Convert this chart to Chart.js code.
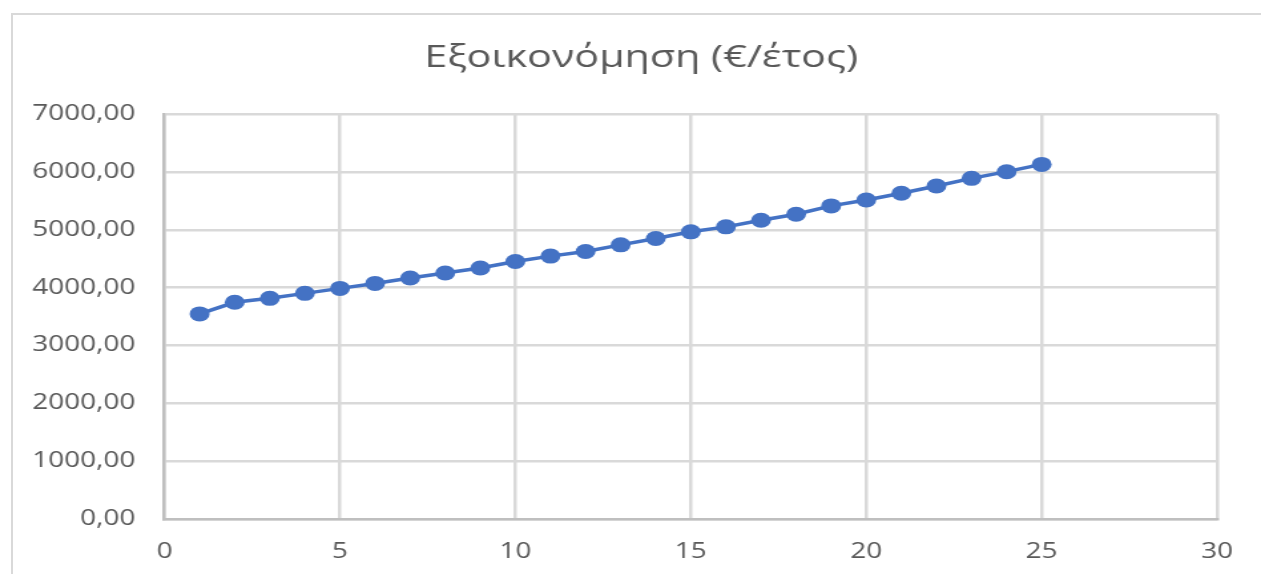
<!DOCTYPE html>
<html>
<head>
<meta charset="utf-8">
<script src="https://cdn.jsdelivr.net/npm/chart.js@4/dist/chart.umd.min.js"></script>
<style>
  html, body { margin: 0; padding: 0; background: #ffffff; }
  #wrap { position: relative; width: 1261px; height: 574px; overflow: hidden; }
  #frame { position: absolute; left: 11px; top: 13px; right: -10px; bottom: -10px;
           border-left: 2px solid #d9d9d9; border-top: 2px solid #d9d9d9; }
  #c { position: absolute; left: 0; top: 0; }
</style>
</head>
<body>
<div id="wrap">
  <div id="frame"></div>
  <canvas id="c" width="948" height="574" style="width:1261px;height:574px"></canvas>
</div>
<script>
// Annual savings per year of operation
const chartTitle = 'Εξοικονόμηση (€/έτος)';
const years = [1, 2, 3, 4, 5, 6, 7, 8, 9, 10, 11, 12, 13, 14, 15, 16, 17, 18, 19, 20, 21, 22, 23, 24, 25];
const savings = [3547, 3747, 3816, 3902, 3988, 4074, 4167, 4253, 4340, 4454,
                 4546, 4626, 4741, 4850, 4966, 5052, 5167, 5270, 5414, 5517,
                 5632, 5759, 5891, 6006, 6132];
const xTicks = [0, 5, 10, 15, 20, 25, 30];
const yTicks = [0, 1000, 2000, 3000, 4000, 5000, 6000, 7000];

const points = years.map((y, i) => ({ x: y, y: savings[i] }));
const fmt = v => v.toFixed(2).replace('.', ',');
const textColor = '#595959';
const family = '"Open Sans", "Segoe UI", sans-serif';

new Chart(document.getElementById('c'), {
  type: 'line',
  data: {
    datasets: [{
      data: points,
      borderColor: '#4472C4',
      borderWidth: 3.5,
      backgroundColor: '#4472C4',
      pointBackgroundColor: '#4472C4',
      pointBorderWidth: 0,
      pointRadius: 7.5,
      pointHoverRadius: 7.5,
      tension: 0,
      fill: false
    }]
  },
  options: {
    responsive: false,
    animation: false,
    events: [],
    layout: { padding: { left: 16, right: 0, top: 0, bottom: 0 } },
    plugins: {
      legend: { display: false },
      tooltip: { enabled: false },
      title: {
        display: true,
        text: chartTitle,
        color: textColor,
        font: { family: family, size: 31, weight: 'normal' },
        padding: { top: 40, bottom: 37 }
      }
    },
    scales: {
      x: {
        type: 'linear',
        min: xTicks[0],
        max: xTicks[xTicks.length - 1],
        afterBuildTicks: s => { s.ticks = xTicks.map(v => ({ value: v })); },
        afterFit: s => { s.height = 55; },
        grid: { color: '#d9d9d9', lineWidth: 2.5, drawTicks: false },
        border: { color: '#bfbfbf', width: 2.5 },
        ticks: {
          color: textColor,
          font: { family: family, size: 21 },
          padding: 20,
          maxRotation: 0,
          callback: v => String(v)
        }
      },
      y: {
        type: 'linear',
        min: yTicks[0],
        max: yTicks[yTicks.length - 1],
        afterBuildTicks: s => { s.ticks = yTicks.map(v => ({ value: v })); },
        afterFit: s => { s.width = 107.7; },
        grid: { color: '#d9d9d9', lineWidth: 2.5, drawTicks: false },
        border: { color: '#bfbfbf', width: 2.5 },
        ticks: {
          color: textColor,
          font: { family: family, size: 21 },
          padding: 22,
          callback: v => fmt(v)
        }
      },
      // empty right-hand margin beside the plot
      yMargin: {
        type: 'linear',
        position: 'right',
        display: true,
        afterFit: s => { s.width = 33; },
        grid: { display: false, drawTicks: false },
        border: { display: false },
        ticks: { display: false }
      }
    }
  }
});
</script>
</body>
</html>
